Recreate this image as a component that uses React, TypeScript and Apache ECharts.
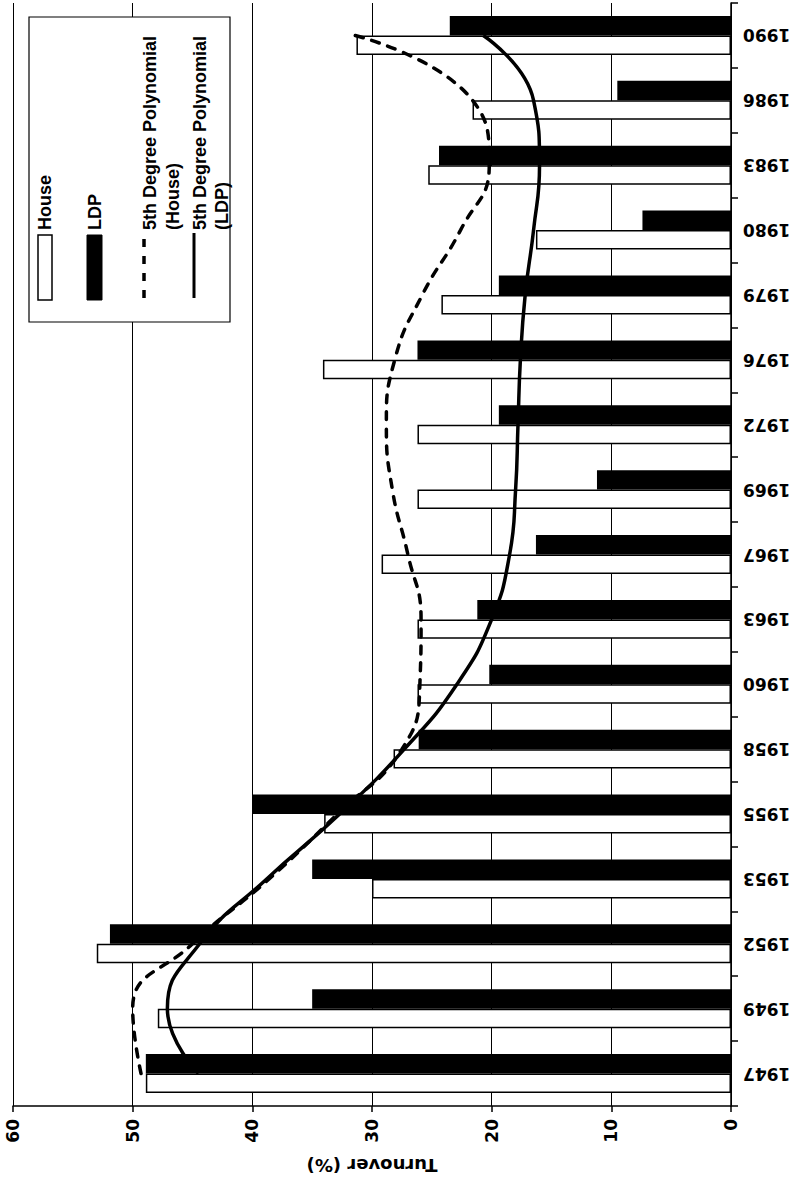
import React, { useEffect, useRef } from 'react';
import * as echarts from 'echarts';

const years = ['1947', '1949', '1952', '1953', '1955', '1958', '1960', '1963', '1967', '1969', '1972', '1976', '1979', '1980', '1983', '1986', '1990'];
const houseTurnover = [48.9, 47.9, 53.0, 30.0, 34.0, 28.2, 26.2, 26.2, 29.2, 26.2, 26.2, 34.1, 24.2, 16.3, 25.3, 21.6, 31.3];
const ldpTurnover = [48.9, 35.0, 51.9, 35.0, 40.0, 26.1, 20.2, 21.2, 16.3, 11.2, 19.4, 26.2, 19.4, 7.4, 24.4, 9.5, 23.5];
const houseTrend = [49.3, 50.0, 45.0, 38.6, 32.9, 27.5, 26.0, 25.9, 27.0, 28.3, 28.8, 28.1, 25.8, 22.6, 20.2, 21.6, 31.4];
const ldpTrend = [44.5, 47.1, 44.4, 38.8, 32.7, 27.3, 22.9, 20.0, 18.5, 18.0, 17.8, 17.6, 17.2, 16.5, 16.0, 16.5, 20.7];
const seriesNames = ['House', 'LDP', '5th Degree Polynomial (House)', '5th Degree Polynomial (LDP)'];

export default function App() {
  const ref = useRef<HTMLDivElement>(null);
  useEffect(() => {
    const chart = echarts.init(ref.current as HTMLDivElement, null, { renderer: 'svg' });
    const numFont = 'DejaVu Sans';
    const legFont = 'Liberation Sans';
    const R = Math.PI / 2;
    const legText = (text: string, x: number) => ({
      type: 'text', z: 102, x, y: 230, rotation: R,
      style: { text, fill: '#000', fontSize: 18, fontWeight: 'bold', fontFamily: legFont, textAlign: 'left', textVerticalAlign: 'middle', verticalAlign: 'middle' },
    });
    chart.setOption({
      animation: false,
      backgroundColor: '#fff',
      grid: { left: 13, right: 69, top: 3, bottom: 72, containLabel: false, outerBoundsMode: 'none' },
      xAxis: {
        type: 'value', min: 0, max: 60, interval: 10, inverse: true, position: 'bottom',
        name: 'Turnover (%)', nameLocation: 'middle', nameGap: 50, nameRotate: 180,
        nameTextStyle: { fontFamily: numFont, fontWeight: 'bold', fontSize: 18, color: '#000' },
        axisLine: { show: true, lineStyle: { color: '#000', width: 1.5 } },
        axisTick: { show: true, length: 6, lineStyle: { color: '#000', width: 1.5 } },
        axisLabel: { rotate: 90, margin: 13, fontFamily: numFont, fontWeight: 'bold', fontSize: 17, color: '#000' },
        splitLine: { show: true, lineStyle: { color: '#000', width: 1 } },
      },
      yAxis: {
        type: 'category', data: years, position: 'right',
        axisLine: { show: true, lineStyle: { color: '#000', width: 1.5 } },
        axisTick: { show: true, length: 7, inside: false, lineStyle: { color: '#000', width: 1.5 } },
        axisLabel: { rotate: 180, margin: 12, fontFamily: numFont, fontWeight: 'bold', fontSize: 17, color: '#000' },
        splitLine: { show: false },
      },
      series: [
        {
          name: seriesNames[1], type: 'bar', data: ldpTurnover, barGap: '0%', barCategoryGap: '40%',
          itemStyle: { color: '#000', borderColor: '#000', borderWidth: 0 },
        },
        {
          name: seriesNames[0], type: 'bar', data: houseTurnover, barGap: '0%', barCategoryGap: '40%',
          itemStyle: { color: '#fff', borderColor: '#000', borderWidth: 1.5 },
        },
        {
          name: seriesNames[2], type: 'line', data: houseTrend, smooth: 0.5, symbol: 'none', z: 5,
          lineStyle: { color: '#000', width: 3.5, type: [8, 9], cap: 'round' },
        },
        {
          name: seriesNames[3], type: 'line', data: ldpTrend, smooth: 0.5, symbol: 'none', z: 5,
          lineStyle: { color: '#000', width: 3.5 },
        },
      ],
      graphic: [
        { type: 'rect', z: 100, shape: { x: 29, y: 17, width: 201, height: 305 }, style: { fill: '#fff', stroke: '#000', lineWidth: 1.2 } },
        { type: 'rect', z: 101, shape: { x: 38, y: 235, width: 14, height: 65 }, style: { fill: '#fff', stroke: '#000', lineWidth: 1.5 } },
        { type: 'rect', z: 101, shape: { x: 87, y: 235, width: 15, height: 65 }, style: { fill: '#000', stroke: '#000', lineWidth: 1 } },
        { type: 'line', z: 101, shape: { x1: 144, y1: 298, x2: 144, y2: 233 }, style: { stroke: '#000', lineWidth: 3.5, lineDash: [8, 9] } },
        { type: 'line', z: 101, shape: { x1: 194, y1: 298, x2: 194, y2: 233 }, style: { stroke: '#000', lineWidth: 3 } },
        legText(seriesNames[0], 45),
        legText(seriesNames[1], 95),
        legText('5th Degree Polynomial', 150),
        legText('(House)', 173),
        legText('5th Degree Polynomial', 200),
        legText('(LDP)', 222),
      ],
    });
    return () => chart.dispose();
  }, []);
  return <div ref={ref} style={{ position: 'absolute', left: 0, top: 0, width: 800, height: 1178, background: '#fff' }} />;
}
